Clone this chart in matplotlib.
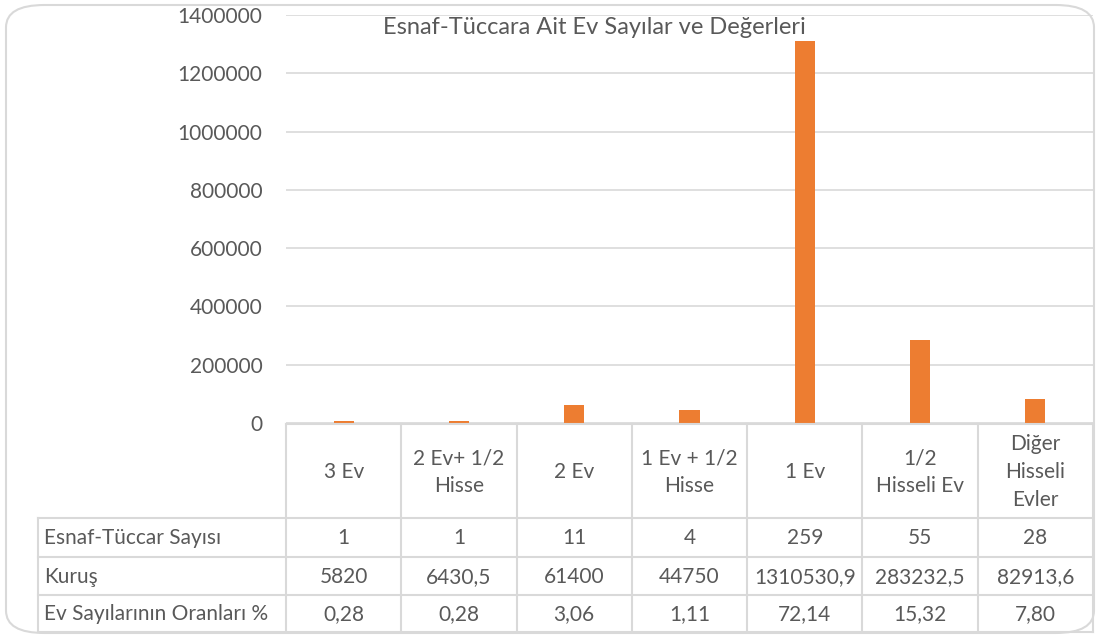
import numpy as np
import matplotlib
matplotlib.use("Agg")
import matplotlib.pyplot as plt
from matplotlib.patches import FancyBboxPatch

plt.rcParams['font.family'] = ['Lato', 'DejaVu Sans']

categories = ["3 Ev", "2 Ev+ 1/2\nHisse", "2 Ev", "1 Ev + 1/2\nHisse", "1 Ev",
              "1/2\nHisseli Ev", "Diğer\nHisseli\nEvler"]
series_names = ["Esnaf-Tüccar Sayısı", "Kuruş", "Ev Sayılarının Oranları %"]
esnaf = [1, 1, 11, 4, 259, 55, 28]
kurus = [5820, 6430.5, 61400, 44750, 1310530.9, 283232.5, 82913.6]
oran = [0.28, 0.28, 3.06, 1.11, 72.14, 15.32, 7.80]
table_text = [
    ["1", "1", "11", "4", "259", "55", "28"],
    ["5820", "6430,5", "61400", "44750", "1310530,9", "283232,5", "82913,6"],
    ["0,28", "0,28", "3,06", "1,11", "72,14", "15,32", "7,80"],
]
colors = ["#4472C4", "#ED7D31", "#A5A5A5"]
txt = "#595959"
grid = "#D9D9D9"
fs = 15

W, H = 1099, 639
fig = plt.figure(figsize=(W / 100, H / 100), dpi=100)

# rounded chart border
fig.patches.append(FancyBboxPatch((6 / W, 6 / H), 1088 / W, 628 / H,
                                  boxstyle="round,pad=0,rounding_size=0.035",
                                  transform=fig.transFigure, fill=False,
                                  edgecolor="#D9D9D9", linewidth=1.5))

# plot area in pixels
x0, x1 = 286, 1093
y_top, y_zero = 15, 423
ax = fig.add_axes([x0 / W, (H - y_zero) / H, (x1 - x0) / W, (y_zero - y_top) / H])
n = len(categories)
x = np.arange(n)
bw = 0.175
for k, vals in enumerate([esnaf, kurus, oran]):
    ax.bar(x + (k - 1) * bw, vals, bw, color=colors[k], zorder=3)
ax.set_xlim(-0.5, n - 0.5)
ax.set_ylim(0, 1400000)
ax.set_yticks(np.arange(0, 1400001, 200000))
ax.set_yticklabels([str(v) for v in range(0, 1400001, 200000)])
ax.yaxis.grid(True, color=grid, linewidth=1.2, zorder=0)
ax.set_xticks([])
for s in ax.spines.values():
    s.set_visible(False)
ax.tick_params(axis="y", length=0, pad=17, labelsize=fs, labelcolor=txt)

fig.text(594 / W, 1 - 27 / H, "Esnaf-Tüccara Ait Ev Sayılar ve Değerleri",
         ha="center", va="center", fontsize=17, color=txt)

# data table below the plot
t_left, t_top, t_bot = 38, 424, 632
colw = (x1 - x0) / n
tax = fig.add_axes([t_left / W, (H - t_bot) / H, (x1 - t_left) / W, (t_bot - t_top) / H])
xl = -0.5 - (x0 - t_left) / colw
tax.set_xlim(xl, n - 0.5)
tax.set_ylim(t_bot, t_top)
tax.axis("off")
rows = [424.5, 518, 557, 595, 632]
lc = "#D9D9D9"
lw = 1.5
tax.plot([-0.5, n - 0.5], [rows[0]] * 2, color=lc, lw=lw, clip_on=False)
for r in rows[1:]:
    tax.plot([xl, n - 0.5], [r, r], color=lc, lw=lw, clip_on=False)
tax.plot([xl, xl], [rows[1], rows[-1]], color=lc, lw=lw, clip_on=False)
for i in range(n + 1):
    tax.plot([i - 0.5, i - 0.5], [rows[0], rows[-1]], color=lc, lw=lw, clip_on=False)
for i, c in enumerate(categories):
    tax.text(i, (rows[0] + rows[1]) / 2 + 1, c, ha="center", va="center",
             fontsize=fs, color=txt, linespacing=1.5)
for j, name in enumerate(series_names):
    yc = (rows[j + 1] + rows[j + 2]) / 2 + 1
    tax.text(xl + 0.05, yc, name, ha="left", va="center", fontsize=fs, color=txt)
    for i in range(n):
        tax.text(i, yc, table_text[j][i], ha="center", va="center", fontsize=fs, color=txt)

fig.savefig("out.png", dpi=100)
